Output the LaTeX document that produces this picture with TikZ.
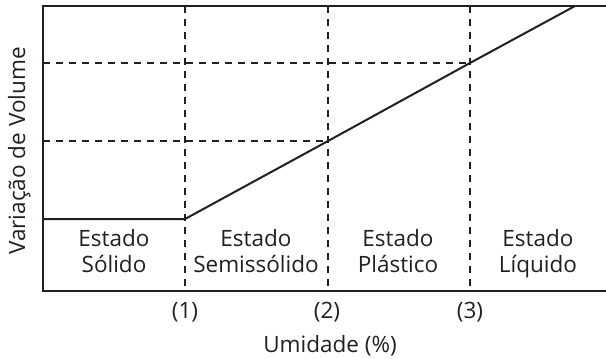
\documentclass[tikz,border=0pt]{standalone}
\usepackage{fontspec}
\setmainfont{Open Sans}
\definecolor{ink}{HTML}{231F20}
\begin{document}
\begin{tikzpicture}[x=1pt,y=-1pt,
  frame/.style={line width=2.6pt,draw=ink},
  curve/.style={line width=2pt,draw=ink},
  guide/.style={line width=1.8pt,draw=ink,dash pattern=on 7pt off 6pt},
  lbl/.style={font=\fontsize{22.5}{27}\selectfont,text=ink,inner sep=0pt,anchor=base}]
\useasboundingbox (0,0) rectangle (606,359);
% frame corners
\coordinate (tl) at (43,6);
\coordinate (tr) at (610,6);
\coordinate (bl) at (43,291);
\coordinate (br) at (610,291);
% vertical guide positions
\coordinate (t1) at (185,6);  \coordinate (b1) at (185,291);
\coordinate (t2) at (328,6);  \coordinate (b2) at (328,291);
\coordinate (t3) at (470,6);  \coordinate (b3) at (470,291);
% curve points
\coordinate (c0) at (43,219);
\coordinate (c1) at (185,219);
\coordinate (c2) at (328,141);
\coordinate (c3) at (470,63);
\coordinate (c4) at (575,6);
\coordinate (h2) at (43,141);
\coordinate (h3) at (43,63);
% guides
\draw[guide] (t1) -- (b1);
\draw[guide] (t2) -- (b2);
\draw[guide] (t3) -- (b3);
\draw[guide] (h3) -- (c3);
\draw[guide] (h2) -- (c2);
% curve
\draw[curve,line join=round] (c0) -- (c1) -- (c2) -- (c3) -- (c4);
% frame
\draw[frame,line join=miter] (tr) -- (tl) -- (bl) -- (br);
% labels
\node[lbl] (s1a) at (114,246) {Estado};
\node[lbl] (s1b) at (114,272) {Sólido};
\node[lbl] (s2a) at (256,246) {Estado};
\node[lbl] (s2b) at (256,272) {Semissólido};
\node[lbl] (s3a) at (398,246) {Estado};
\node[lbl] (s3b) at (398,272) {Plástico};
\node[lbl] (s4a) at (538,246) {Estado};
\node[lbl] (s4b) at (538,272) {Líquido};
\node[lbl] (n1) at (185,318) {(1)};
\node[lbl] (n2) at (327,318) {(2)};
\node[lbl] (n3) at (470,318) {(3)};
\node[lbl] (xl) at (330,352) {Umidade (\%)};
\node[lbl,rotate=90] (yl) at (25,151) {Variação de Volume};
\end{tikzpicture}
\end{document}
